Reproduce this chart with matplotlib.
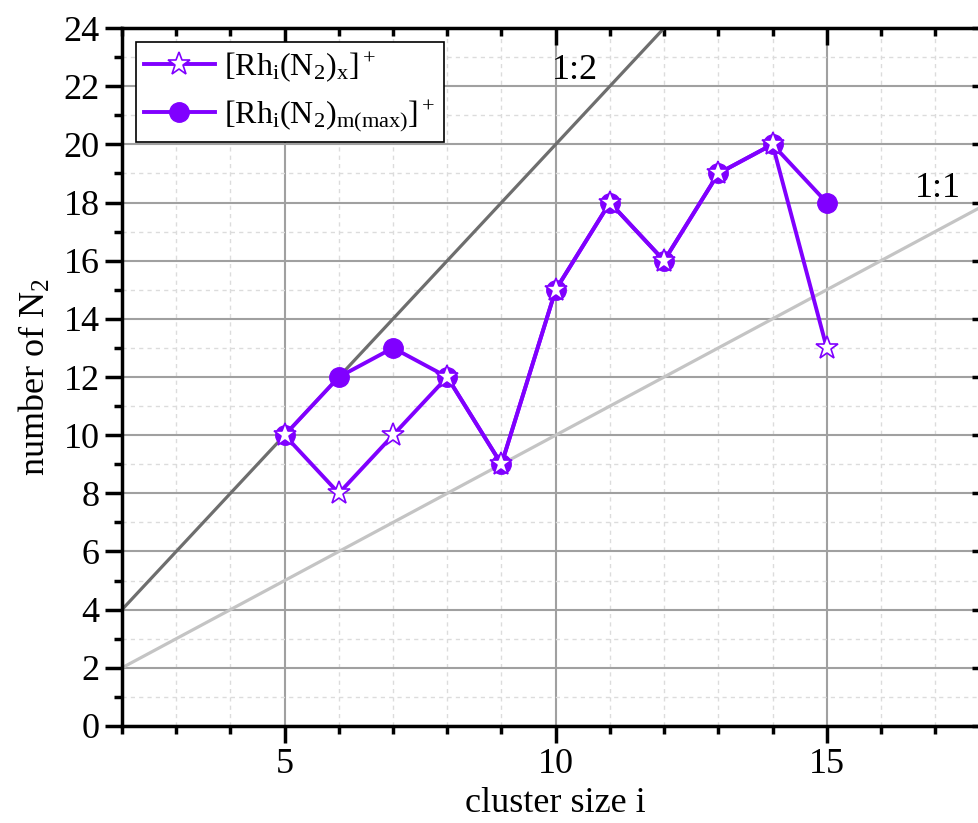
import numpy as np
import matplotlib
matplotlib.use("Agg")
import matplotlib.pyplot as plt
from matplotlib.ticker import MultipleLocator

plt.rcParams['font.family'] = ['Liberation Serif', 'DejaVu Serif']
plt.rcParams['mathtext.fontset'] = 'custom'
plt.rcParams['mathtext.rm'] = 'Liberation Serif'
plt.rcParams['mathtext.it'] = 'Liberation Serif:italic'

# data
cluster_size = [5, 6, 7, 8, 9, 10, 11, 12, 13, 14, 15]
n2_x = [10, 8, 10, 12, 9, 15, 18, 16, 19, 20, 13]
n2_max = [10, 12, 13, 12, 9, 15, 18, 16, 19, 20, 18]
ref_x = [2, 18]

purple = '#8000ff'

fig = plt.figure(figsize=(9.79, 8.23), dpi=100)
ax = fig.add_axes([0.1246, 0.1179, 0.886, 0.848])

ax.set_xlim(2, 18)
ax.set_ylim(0, 24)

# grid
ax.xaxis.set_major_locator(MultipleLocator(5))
ax.xaxis.set_minor_locator(MultipleLocator(1))
ax.yaxis.set_major_locator(MultipleLocator(2))
ax.yaxis.set_minor_locator(MultipleLocator(1))
ax.grid(which='major', color='#a0a0a0', lw=1.5, ls='-')
ax.grid(which='minor', color='#dcdcdc', lw=1.0, ls=(0, (3, 3)))
ax.set_axisbelow(True)

# reference lines
ax.plot(ref_x, [2 * v for v in ref_x], color='#6e6e6e', lw=2.3, zorder=2)
ax.plot(ref_x, ref_x, color='#c4c4c4', lw=2.3, zorder=2)
ax.text(10.36, 22.55, '1:2', fontsize=26, ha='center', va='center', zorder=3)
ax.text(17.05, 18.5, '1:1', fontsize=26, ha='center', va='center', zorder=3)

# series
ax.plot(cluster_size, n2_max, color=purple, lw=2.8, marker='o', ms=14,
        mfc=purple, mec=purple, zorder=4,
        label=r'[Rh$_\mathrm{i}$(N$_2$)$_\mathrm{m(max)}$]$^+$')
ax.plot(cluster_size, n2_x, color=purple, lw=2.8, marker='*', ms=17,
        mfc='white', mec=purple, mew=1.2, zorder=5,
        label=r'[Rh$_\mathrm{i}$(N$_2$)$_\mathrm{x}$]$^+$')

# axes styling
for side in ['left', 'bottom', 'top', 'right']:
    ax.spines[side].set_color('black')
    ax.spines[side].set_linewidth(2.5)
ax.tick_params(which='major', direction='out', length=12, width=2.5,
               labelsize=26, pad=4)
ax.tick_params(which='minor', direction='out', length=6, width=2.5)
ax.tick_params(which='both', top=True, right=True)
for t in ax.xaxis.get_ticklines(minor=False)[1::2] + ax.xaxis.get_ticklines(minor=True)[1::2]:
    t.set_marker(3)
for t in ax.yaxis.get_ticklines(minor=False)[1::2] + ax.yaxis.get_ticklines(minor=True)[1::2]:
    t.set_marker(0)

ax.set_xlabel('cluster size i', fontsize=26, labelpad=4)
ax.set_ylabel(r'number of N$_2$', fontsize=26, labelpad=8)

handles, labels = ax.get_legend_handles_labels()
leg = ax.legend(handles[::-1], labels[::-1], loc='upper left', fontsize=23,
                frameon=True, fancybox=False, edgecolor='black',
                framealpha=1, borderaxespad=0.45, handlelength=2.2,
                labelspacing=0.45, borderpad=0.25, handletextpad=0.3)
leg.get_frame().set_linewidth(1.2)

fig.savefig('out.png', dpi=100)
